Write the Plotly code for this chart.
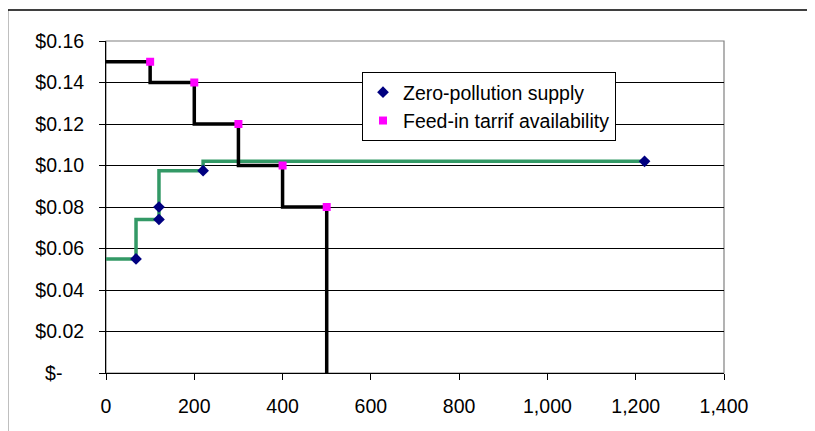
import plotly.graph_objects as go

# Step-line vertices (drawn with horizontal-then-vertical steps)
supply_line_x = [0, 68, 120, 220, 1220]
supply_line_y = [0.055, 0.074, 0.0975, 0.102, 0.102]

tariff_line_x = [0, 100, 200, 300, 400, 500]
tariff_line_y = [0.15, 0.14, 0.12, 0.10, 0.08, 0.0]

# Marker series
supply_x = [68, 120, 120, 220, 1220]
supply_y = [0.055, 0.074, 0.080, 0.0975, 0.102]

tariff_x = [100, 200, 300, 400, 500]
tariff_y = [0.15, 0.14, 0.12, 0.10, 0.08]

y_tickvals = [0, 0.02, 0.04, 0.06, 0.08, 0.10, 0.12, 0.14, 0.16]
y_ticktext = ["$-<span style='color:rgba(0,0,0,0)'>00</span>", "$0.02", "$0.04", "$0.06", "$0.08",
              "$0.10", "$0.12", "$0.14", "$0.16"]

FONT = "Liberation Sans, Arial, sans-serif"
OFF = 8  # page body offset
W, H = 815 - OFF, 431 - OFF
L, T = 106 - OFF, 41 - OFF
R = W - (724 - OFF)
B = H - (373 - OFF)

fig = go.Figure()

fig.add_trace(go.Scatter(x=supply_line_x, y=supply_line_y, mode="lines",
                         line=dict(color="#339966", width=3.5, shape="hv"),
                         showlegend=False, hoverinfo="skip"))
fig.add_trace(go.Scatter(x=tariff_line_x, y=tariff_line_y, mode="lines",
                         line=dict(color="#000000", width=3.5, shape="hv"),
                         showlegend=False, hoverinfo="skip"))
fig.add_trace(go.Scatter(x=supply_x, y=supply_y, mode="markers",
                         name="Zero-pollution supply",
                         marker=dict(symbol="diamond", size=9, color="#000080")))
fig.add_trace(go.Scatter(x=tariff_x, y=tariff_y, mode="markers",
                         name="Feed-in tarrif availability",
                         marker=dict(symbol="square", size=8, color="#FF00FF")))

pw = W - L - R
ph = H - T - B

def px_x(p):  # page pixel -> paper x
    return (p - OFF - L) / pw

def px_y(p):  # page pixel -> paper y
    return (H - B - (p - OFF)) / ph

shapes = [
    # plot area border (gray)
    dict(type="rect", xref="paper", yref="paper", x0=0, x1=1, y0=0, y1=1,
         line=dict(color="#808080", width=1.2), layer="below"),
    # chart area border (cropped at right/bottom)
    dict(type="rect", xref="paper", yref="paper",
         x0=px_x(7.5), x1=px_x(840), y0=px_y(460), y1=px_y(10),
         line=dict(color="#000000", width=1.5), layer="below"),
]

fig.update_layout(
    width=W, height=H,
    margin=dict(l=L, r=R, t=T, b=B, pad=0),
    paper_bgcolor="white", plot_bgcolor="white",
    font=dict(family=FONT, size=19.5, color="#000000"),
    showlegend=True,
    legend=dict(x=px_x(362), y=px_y(72), xanchor="left", yanchor="top",
                bgcolor="white", bordercolor="#000000", borderwidth=1,
                font=dict(family=FONT, size=19.5, color="#000000"),
                tracegroupgap=0, itemsizing="trace"),
    shapes=shapes,
    xaxis=dict(range=[0, 1400], tickvals=[0, 200, 400, 600, 800, 1000, 1200, 1400],
               tickformat=",d", showgrid=False, zeroline=False,
               showline=True, linecolor="#000000", linewidth=1,
               ticks="outside", ticklen=6, tickcolor="#000000", tickwidth=1,
               ticklabelstandoff=10,
               tickfont=dict(family=FONT, size=19.5), fixedrange=True),
    yaxis=dict(range=[0, 0.16], tickvals=y_tickvals, ticktext=y_ticktext,
               showgrid=True, gridcolor="#000000", gridwidth=1, zeroline=False,
               showline=True, linecolor="#000000", linewidth=1,
               ticks="outside", ticklen=6, tickcolor="#000000", tickwidth=1,
               ticklabelstandoff=11,
               tickfont=dict(family=FONT, size=19.5), fixedrange=True),
)

fig.write_html("out.html")
